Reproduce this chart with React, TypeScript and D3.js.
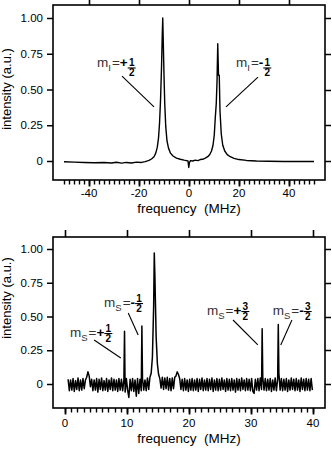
import React, { useEffect, useRef } from 'react';
import * as d3 from 'd3';

const FONT = '"Liberation Sans", Arial, Helvetica, sans-serif';

// upper spectrum: m_I lines
const topFreq = [
  -50, -46, -42, -38, -34, -31, -29, -27, -25, -23,
  -21, -19, -17.5, -16, -15, -14, -13.3, -12.7, -12.2, -11.8,
  -11.4, -11.0, -10.7, -10.5, -10.3, -10.0, -9.7, -9.3, -8.8, -8.2,
  -7.4, -6.4, -5, -3.5, -2, -1, -0.4, -0.1, 0.2, 0.6,
  1.5, 2.5, 3.5, 4.5, 5.5, 6.5, 7.5, 8.3, 9.0, 9.6,
  10.1, 10.5, 10.9, 11.2, 11.5, 11.8, 12.1, 12.4, 12.9, 13.5,
  14.3, 15.3, 16.5, 18, 20, 23, 27, 32, 38, 44,
  50,
];
const topIntensity = [
  -0.005, -0.008, -0.01, -0.012, -0.011, -0.014, -0.009, -0.015, -0.01, -0.014,
  -0.008, -0.01, -0.004, 0.004, 0.014, 0.03, 0.055, 0.095, 0.16, 0.26,
  0.42, 0.65, 0.88, 1.0, 0.84, 0.6, 0.4, 0.24, 0.14, 0.09,
  0.055, 0.035, 0.02, 0.012, 0.006, 0.003, 0.0, -0.045, -0.01, 0.003,
  0.0, 0.006, 0.003, 0.01, 0.012, 0.02, 0.03, 0.045, 0.07, 0.11,
  0.18, 0.3, 0.4, 0.55, 0.82, 0.6, 0.6, 0.35, 0.19, 0.11,
  0.07, 0.045, 0.03, 0.018, 0.01, 0.004, 0.0, -0.002, -0.003, -0.004,
  -0.004,
];

// lower spectrum: sampled every 0.2 MHz from 0.5 MHz
const bottomStart = 0.5;
const bottomStep = 0.2;
const bottomIntensity = [
  0.035, -0.05, 0.03, -0.045, 0.04, -0.055, 0.025, -0.04, 0.045, -0.05, 0.03, -0.045, 0.04, -0.035, 0.03, 0.05, 0.09, 0.06, -0.02, 0.035,
  -0.05, 0.03, -0.045, 0.04, -0.06, 0.035, -0.04, 0.045, -0.05, 0.025, -0.045, 0.04, -0.055, 0.03, -0.04, 0.045, -0.05, 0.035, -0.045, 0.03,
  -0.055, 0.04, -0.045, 0.035, -0.05, 0.03, -0.06, 0.04, -0.045, -0.1, 0.035, -0.05, 0.04, -0.055, 0.03, -0.09, 0.04, -0.07, 0.035, -0.05,
  0.04, -0.045, 0.03, -0.05, 0.045, -0.04, 0.05, 0.08, 0.2, 0.58, 0.8, 0.35, 0.15, 0.07, 0.04, -0.03, 0.05, -0.04, 0.045, -0.035,
  0.05, -0.045, 0.04, -0.05, 0.045, -0.035, 0.05, 0.06, 0.09, 0.07, 0.04, -0.04, 0.035, -0.05, 0.04, -0.045, 0.03, -0.055, 0.035, -0.045,
  0.04, -0.05, 0.03, -0.045, 0.04, -0.055, 0.035, -0.04, 0.045, -0.05, 0.03, -0.045, 0.04, -0.05, 0.035, -0.04, 0.045, -0.055, 0.03, -0.045,
  0.04, -0.05, 0.035, -0.045, 0.045, -0.04, 0.03, -0.055, 0.04, -0.045, 0.035, -0.05, 0.04, -0.045, 0.03, -0.06, 0.04, -0.045, 0.035, -0.05,
  0.045, -0.04, 0.03, -0.05, 0.04, -0.045, 0.035, -0.05, 0.04, -0.055, -0.07, 0.035, -0.045, 0.04, -0.05, 0.045, -0.04, 0.05, -0.045, 0.04,
  -0.05, 0.035, -0.045, 0.04, -0.055, 0.03, -0.045, 0.045, -0.05, 0.035, 0.08, -0.045, 0.04, -0.05, 0.035, -0.045, 0.04, -0.055, 0.03, -0.045,
  0.045, -0.04, 0.035, -0.05, 0.04, -0.045, 0.03, -0.055, 0.045, -0.04, 0.035, -0.05, 0.04, -0.045, 0.035, -0.05, 0.04, -0.045,
];
// narrow lines sitting on top of the noise
const spikeFreq = [9.6, 12.4, 14.4, 31.8, 34.4];
const spikeIntensity = [0.39, 0.43, 0.97, 0.41, 0.44];

const yTicks = [0, 0.25, 0.5, 0.75, 1];
const yTickLabels = ['0', '0.25', '0.50', '0.75', '1.00'];
const topTicks = [-40, -20, 0, 20, 40];
const bottomTicks = [0, 10, 20, 30, 40];

const topNotes = [
  { sub: 'I', sign: '+', num: '1', den: '2', at: [-36.8, 0.654], from: [-26.8, 0.594], to: [-14, 0.378] },
  { sub: 'I', sign: '-', num: '1', den: '2', at: [18.8, 0.654], from: [27.6, 0.587], to: [14.8, 0.378] },
];
const bottomNotes = [
  { sub: 'S', sign: '+', num: '1', den: '2', at: [0.8, 0.348], from: [4.7, 0.326], to: [9.0, 0.193] },
  { sub: 'S', sign: '-', num: '1', den: '2', at: [6.3, 0.57], from: [10.2, 0.526], to: [11.8, 0.363] },
  { sub: 'S', sign: '+', num: '3', den: '2', at: [22.9, 0.511], from: [27.1, 0.474], to: [31.1, 0.289] },
  { sub: 'S', sign: '-', num: '3', den: '2', at: [33.5, 0.511], from: [36.6, 0.474], to: [34.8, 0.289] },
];

const topData = topFreq.map((f, i) => [f, topIntensity[i]]);
const bottomData = bottomIntensity
  .map((v, i) => [bottomStart + i * bottomStep, v])
  .concat(spikeFreq.map((f, i) => [f, spikeIntensity[i]]))
  .sort((a, b) => a[0] - b[0]);

const panels = [
  {
    data: topData, notes: topNotes, ticks: topTicks, xDomain: [-50, 50], minorCount: 50,
    frame: [53, 5, 325, 180], xRange: [64, 314], yRange: [161, 18],
    topTick: 5, labelY: 197, xLabelY: 212.5, yLabelY: 89, lineWidth: 1.4, fracDy: 0.5,
  },
  {
    data: bottomData, notes: bottomNotes, ticks: bottomTicks, xDomain: [0, 40], minorCount: 40,
    frame: [53, 237, 325, 408], xRange: [65, 313], yRange: [384, 249],
    topTick: 7, labelY: 427, xLabelY: 442.5, yLabelY: 298, lineWidth: 1.5, fracDy: -3.5,
  },
];

function drawPanel(svg: any, p: any) {
  const x = d3.scaleLinear().domain(p.xDomain).range(p.xRange);
  const y = d3.scaleLinear().domain([0, 1]).range(p.yRange);
  const [fx0, fy0, fx1, fy1] = p.frame;
  const g = svg.append('g');

  // trace
  const line = d3.line<number[]>().x(d => x(d[0])).y(d => y(d[1]));
  g.append('path')
    .datum(p.data)
    .attr('d', line)
    .attr('fill', 'none')
    .attr('stroke', '#000')
    .attr('stroke-width', p.lineWidth)
    .attr('stroke-linejoin', 'round');

  // frame
  g.append('rect')
    .attr('x', fx0).attr('y', fy0)
    .attr('width', fx1 - fx0).attr('height', fy1 - fy0)
    .attr('fill', 'none').attr('stroke', '#000').attr('stroke-width', 1.6);

  // x ticks below the frame (minor comb + majors), majors also above
  const minorVals = x.ticks(p.minorCount);
  const tickPath = (vals: number[], ya: number, yb: number) =>
    vals.map(d => `M${Math.round(x(d)) + 0.5},${ya}V${yb}`).join('');
  g.append('path').attr('d', tickPath(minorVals, fy1, fy1 + 4.5))
    .attr('fill', 'none').attr('stroke', '#000').attr('stroke-width', 1.4);
  g.append('path').attr('d', tickPath(p.ticks, fy1, fy1 + 6.5))
    .attr('fill', 'none').attr('stroke', '#000').attr('stroke-width', 1.8);
  g.append('path').attr('d', tickPath(p.ticks, fy0, fy0 - p.topTick))
    .attr('fill', 'none').attr('stroke', '#000').attr('stroke-width', 1.6);
  g.selectAll(null).data(p.ticks).enter().append('text')
    .attr('x', (d: number) => x(d)).attr('y', p.labelY)
    .attr('text-anchor', 'middle').attr('font-family', FONT).attr('font-size', 11.5)
    .text((d: number) => String(d));

  // left axis with labels, right side bare ticks
  g.append('g').attr('transform', `translate(${fx0},0)`)
    .call(d3.axisLeft(y).tickValues(yTicks).tickSize(6).tickSizeOuter(0).tickPadding(4)
      .tickFormat((d: any) => yTickLabels[yTicks.indexOf(d)]))
    .call((a: any) => {
      a.select('.domain').remove();
      a.selectAll('line').attr('stroke', '#000').attr('stroke-width', 1.5);
      a.selectAll('text').attr('font-family', FONT).attr('font-size', 11.5).attr('fill', '#000');
    });
  g.append('path')
    .attr('d', yTicks.map(d => `M${fx1},${Math.round(y(d)) + 0.5}H${fx1 + 6}`).join(''))
    .attr('fill', 'none').attr('stroke', '#000').attr('stroke-width', 1.5);

  // axis titles
  g.append('text')
    .attr('x', (p.xRange[0] + p.xRange[1]) / 2).attr('y', p.xLabelY)
    .attr('text-anchor', 'middle').attr('font-family', FONT).attr('font-size', 13.5)
    .style('white-space', 'pre')
    .text('frequency  (MHz)');
  g.append('text')
    .attr('transform', `translate(10.5,${p.yLabelY}) rotate(-90)`)
    .attr('text-anchor', 'middle').attr('font-family', FONT).attr('font-size', 13)
    .text('intensity (a.u.)');

  // line assignments
  p.notes.forEach((n: any) => {
    g.append('line')
      .attr('x1', x(n.from[0])).attr('y1', y(n.from[1]))
      .attr('x2', x(n.to[0])).attr('y2', y(n.to[1]))
      .attr('stroke', '#000').attr('stroke-width', 1.1);

    const lg = g.append('g').attr('transform', `translate(${x(n.at[0])},${y(n.at[1])})`);
    const t = lg.append('text').attr('font-family', FONT).attr('font-size', 13.5).attr('fill', '#333');
    t.append('tspan').text('m');
    t.append('tspan').attr('dy', 4).attr('font-size', 9.5).text(n.sub);
    t.append('tspan').attr('dy', -4).attr('dx', 1).text('=');
    t.append('tspan').attr('font-weight', 'bold').attr('fill', '#000').text(n.sign);
    const w = (t.node() as SVGTextElement).getComputedTextLength();
    const cx = w + 5;
    const bar = p.fracDy;
    lg.append('text').attr('x', cx).attr('y', bar - 1.5)
      .attr('text-anchor', 'middle').attr('font-family', FONT).attr('font-size', 10).attr('font-weight', 'bold')
      .text(n.num);
    lg.append('line').attr('x1', cx - 4).attr('x2', cx + 4).attr('y1', bar).attr('y2', bar)
      .attr('stroke', '#000').attr('stroke-width', 1.1);
    lg.append('text').attr('x', cx).attr('y', bar + 8.5)
      .attr('text-anchor', 'middle').attr('font-family', FONT).attr('font-size', 10).attr('font-weight', 'bold')
      .text(n.den);
  });
}

export default function App() {
  const ref = useRef<SVGSVGElement>(null);

  useEffect(() => {
    const svg = d3.select(ref.current);
    svg.selectAll('*').remove();
    panels.forEach(p => drawPanel(svg, p));
  }, []);

  return (
    <svg
      ref={ref}
      width={332}
      height={449}
      style={{ position: 'absolute', left: 0, top: 0, background: '#fff' }}
    />
  );
}
